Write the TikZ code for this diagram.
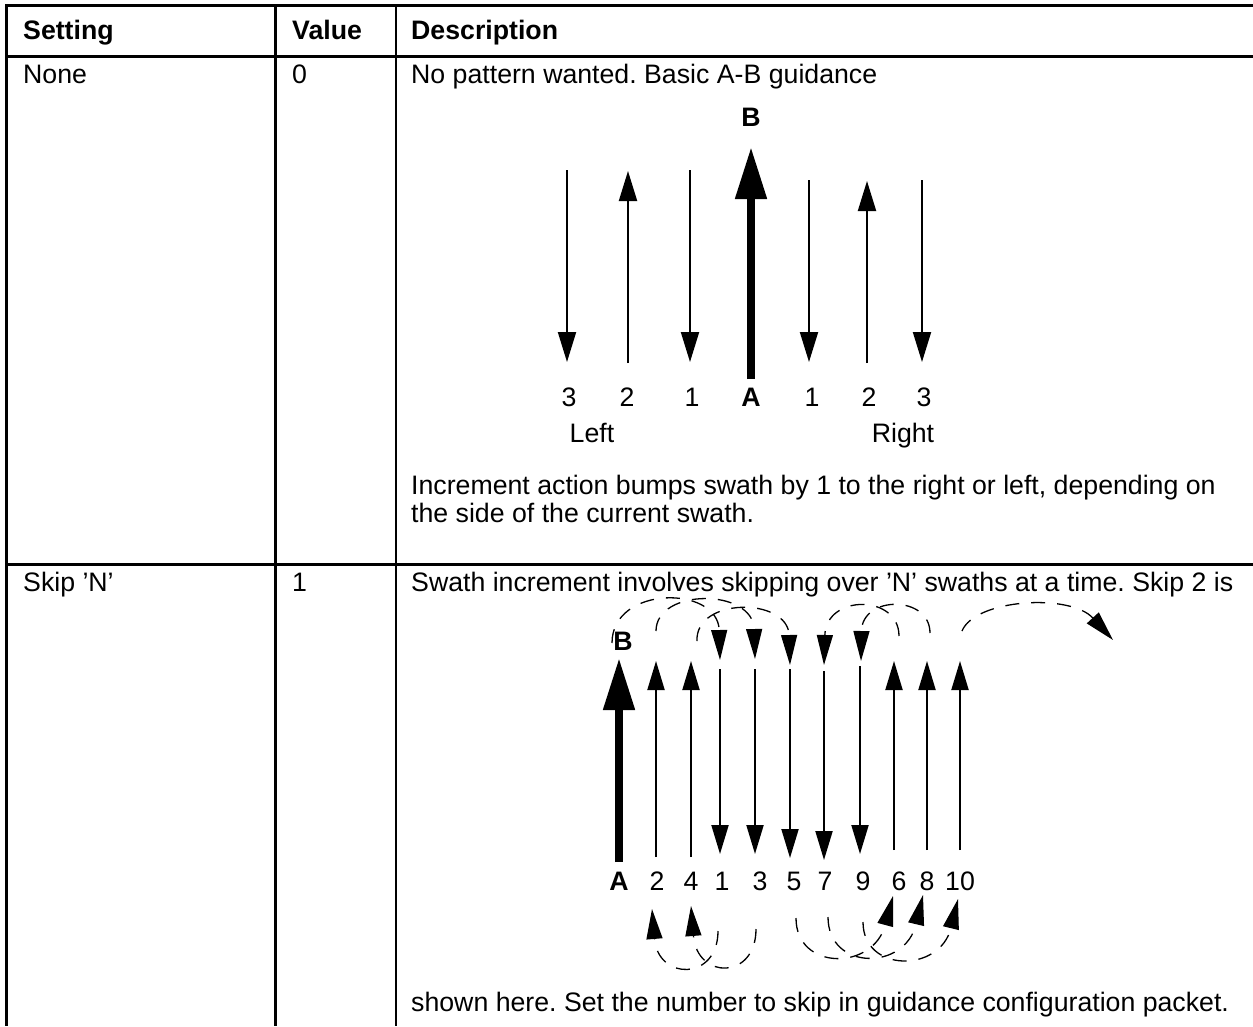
\documentclass[tikz,border=0pt]{standalone}
\usepackage{fontspec}
\setmainfont{Liberation Sans}
\usetikzlibrary{arrows.meta}
\newcommand\txtsize{\fontsize{26.7}{28}\selectfont}
\tikzset{
  txt/.style={font=\txtsize, inner sep=0pt, anchor=base west},
  lbl/.style={font=\txtsize, inner sep=0pt, anchor=base},
  rule/.style={line width=3pt},
  colrule/.style={line width=2.5pt},
  swath/.style={line width=2pt, -{Triangle[length=30pt,width=18pt]}},
  swathb/.style={line width=2pt, -{Triangle[length=29pt,width=17pt]}},
  abline/.style={line width=8pt, -{Triangle[length=52pt,width=30pt]}},
  hop/.style={line width=1.3pt, dash pattern=on 14pt off 12pt, -{Triangle[length=30pt,width=16pt]}},
}
\begin{document}
\frenchspacing
\begin{tikzpicture}[x=1pt,y=-1pt]
\useasboundingbox (0,0) rectangle (1253,1026);

% ---- table rules
\draw[rule] (5,5.5) -- (1253,5.5);
\draw[rule] (5,56.5) -- (1253,56.5);
\draw[rule] (5,564) -- (1253,564);
\draw[rule] (6.5,4) -- (6.5,1026);
\draw[colrule] (275.5,4) -- (275.5,1026);
\draw[colrule] (396,4) -- (396,1026);

% ---- header
\node[txt,font=\txtsize\bfseries] (hset) at (23,39) {Setting};
\node[txt,font=\txtsize\bfseries] (hval) at (292,39) {Value};
\node[txt,font=\txtsize\bfseries] (hdesc) at (411,39) {Description};

% ---- row: None
\node[txt] (none) at (23,83) {None};
\node[txt] (v0) at (292,83) {0};
\node[txt] (d0) at (411,83) {No pattern wanted. Basic A-B guidance};
\node[txt] (d0b) at (411,494) {Increment action bumps swath by 1 to the right or left, depending on};
\node[txt] (d0c) at (411,522) {the side of the current swath.};

% A-B line with neighbouring swaths
\node[lbl,font=\txtsize\bfseries] (bA) at (751,126) {B};
\coordinate (abA) at (751,379);
\coordinate (abB) at (751,147);
\draw[abline] (abA) -- (abB);

\coordinate (l3t) at (567,170); \coordinate (l3b) at (567,362);
\coordinate (l2t) at (628,171); \coordinate (l2b) at (628,363);
\coordinate (l1t) at (690,170); \coordinate (l1b) at (690,362);
\coordinate (r1t) at (809,180); \coordinate (r1b) at (809,362);
\coordinate (r2t) at (867,181); \coordinate (r2b) at (867,363);
\coordinate (r3t) at (922,180); \coordinate (r3b) at (922,362);
\draw[swath] (l3t) -- (l3b);
\draw[swath] (l2b) -- (l2t);
\draw[swath] (l1t) -- (l1b);
\draw[swath] (r1t) -- (r1b);
\draw[swath] (r2b) -- (r2t);
\draw[swath] (r3t) -- (r3b);

\node[lbl] (nl3) at (569,406) {3};
\node[lbl] (nl2) at (627,406) {2};
\node[lbl] (nl1) at (692,406) {1};
\node[lbl,font=\txtsize\bfseries] (nA) at (751,406) {A};
\node[lbl] (nr1) at (812,406) {1};
\node[lbl] (nr2) at (869,406) {2};
\node[lbl] (nr3) at (924,406) {3};
\node[lbl] (left) at (592,442) {Left};
\node[lbl] (right) at (903,442) {Right};

% ---- row: Skip N
\node[txt] (skip) at (23,591) {Skip ’N’};
\node[txt] (v1) at (292,591) {1};
\node[txt] (d1) at (411,591) {Swath increment involves skipping over ’N’ swaths at a time. Skip 2 is};
\node[txt] (d1b) at (411,1011) {shown here. Set the number to skip in guidance configuration packet.};

\node[lbl,font=\txtsize\bfseries] (sB) at (623,650) {B};
\coordinate (sA) at (619,862);
\coordinate (sBt) at (619,658);
\draw[abline] (sA) -- (sBt);

% upward swaths (bottom, top)
\coordinate (u2b) at (656,857);  \coordinate (u2t) at (656,661);
\coordinate (u4b) at (691,857);  \coordinate (u4t) at (691,661);
\coordinate (u6b) at (894,850);  \coordinate (u6t) at (894,661);
\coordinate (u8b) at (927,850);  \coordinate (u8t) at (927,661);
\coordinate (u10b) at (960,850); \coordinate (u10t) at (960,661);
% downward swaths (top, bottom)
\coordinate (d1t) at (720,669); \coordinate (d1b) at (720,854);
\coordinate (d3t) at (755,669); \coordinate (d3b) at (755,854);
\coordinate (d5t) at (790,669); \coordinate (d5b) at (790,858);
\coordinate (d7t) at (824,671); \coordinate (d7b) at (824,860);
\coordinate (d9t) at (860,666); \coordinate (d9b) at (860,854);

\foreach \n in {2,4,6,8,10} \draw[swathb] (u\n b) -- (u\n t);
\foreach \n in {1,3,5,7,9} \draw[swathb] (d\n t) -- (d\n b);

\node[lbl,font=\txtsize\bfseries] (kA) at (619,890) {A};
\node[lbl] (k2) at (657,890) {2};
\node[lbl] (k4) at (691,890) {4};
\node[lbl] (k1) at (722,890) {1};
\node[lbl] (k3) at (760,890) {3};
\node[lbl] (k5) at (794,890) {5};
\node[lbl] (k7) at (825,890) {7};
\node[lbl] (k9) at (863,890) {9};
\node[lbl] (k6) at (899,890) {6};
\node[lbl] (k8) at (927,890) {8};
\node[lbl] (k10) at (960,890) {10};

% hops over the top
\coordinate (tA) at (612,643);  \coordinate (t1) at (720,660);
\coordinate (t2) at (656,631);  \coordinate (t3) at (755,659);
\coordinate (t4) at (697,641);  \coordinate (t5) at (790,665);
\coordinate (t6) at (899,636);  \coordinate (t7) at (824,665);
\coordinate (t8) at (930,633);  \coordinate (t9) at (861,661);
\coordinate (t10) at (962,631); \coordinate (tnext) at (1113,640);
\draw[hop] (tA) .. controls (612,585) and (718,585) .. (t1);
\draw[hop] (t2) .. controls (656,588) and (753,588) .. (t3);
\draw[hop] (t4) .. controls (695,597) and (788,597) .. (t5);
\draw[hop] (t6) .. controls (899,594) and (826,594) .. (t7);
\draw[hop] (t8) .. controls (930,595) and (862,595) .. (t9);
\draw[hop] (t10) .. controls (975,599) and (1070,593) .. (tnext);

% hops underneath
\coordinate (b1) at (718,931);  \coordinate (b2) at (652,909);
\coordinate (b3) at (756,929);  \coordinate (b4) at (691,906);
\coordinate (b5) at (796,918);  \coordinate (b6) at (893,896);
\coordinate (b7) at (828,917);  \coordinate (b8) at (923,895);
\coordinate (b9) at (863,922);  \coordinate (b10) at (958,899);
\draw[hop] (b1) .. controls (718,981) and (658,981) .. (b2);
\draw[hop] (b3) .. controls (756,980) and (697,980) .. (b4);
\draw[hop] (b5) .. controls (796,971) and (873,971) .. (b6);
\draw[hop] (b7) .. controls (828,971) and (905,971) .. (b8);
\draw[hop] (b9) .. controls (863,973) and (940,973) .. (b10);
\end{tikzpicture}
\end{document}
